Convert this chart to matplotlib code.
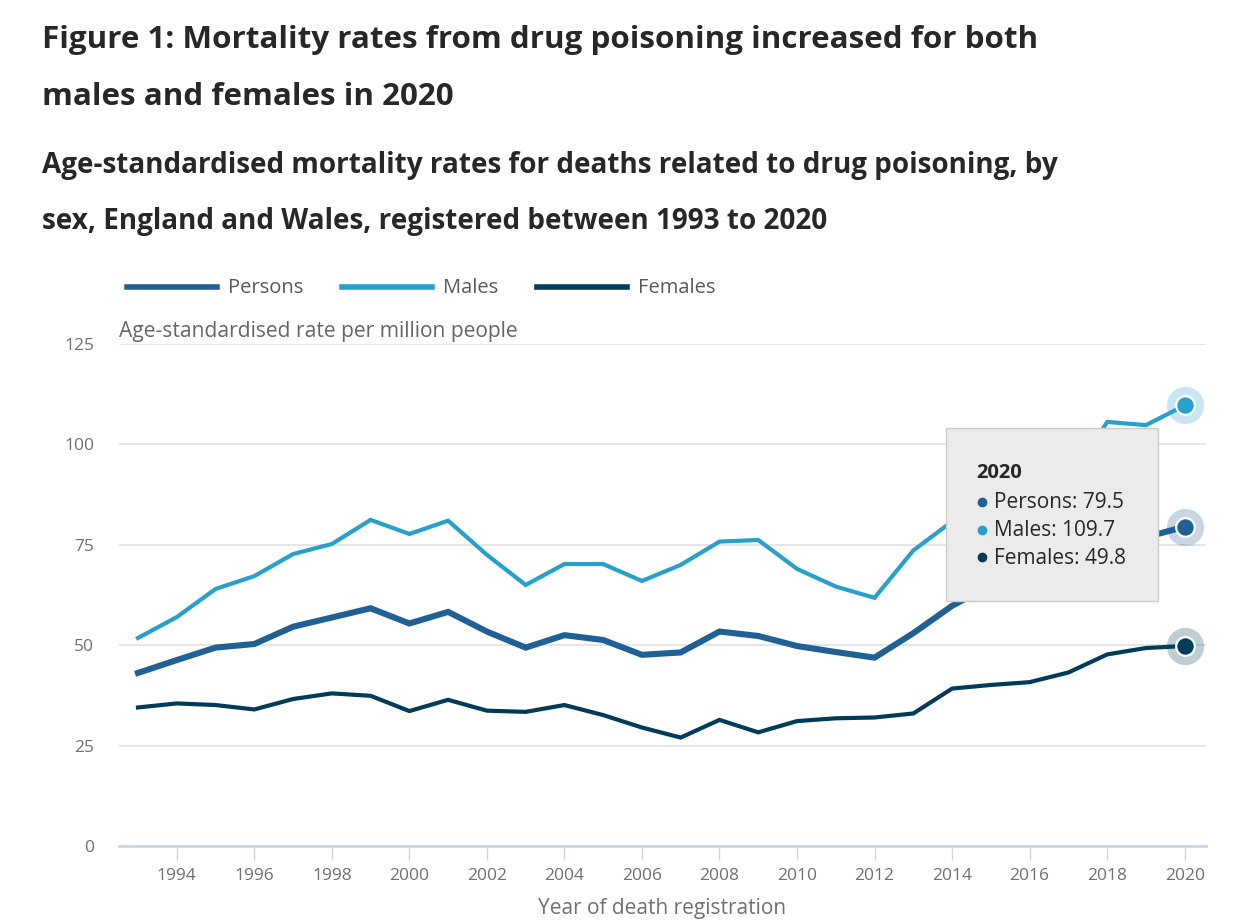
import matplotlib
matplotlib.use("Agg")
import matplotlib.pyplot as plt
from matplotlib.patches import Rectangle
from matplotlib.lines import Line2D

plt.rcParams["font.family"] = ["Open Sans", "DejaVu Sans"]

years = list(range(1993, 2021))
persons = [43.1, 46.3, 49.4, 50.3, 54.6, 56.9, 59.2, 55.4, 58.3, 53.4, 49.4,
           52.5, 51.3, 47.6, 48.2, 53.4, 52.3, 49.8, 48.3, 46.9, 53.0, 59.8,
           65.0, 66.0, 66.1, 76.1, 76.9, 79.5]
males = [51.8, 57.0, 64.0, 67.2, 72.7, 75.2, 81.2, 77.7, 81.0, 72.5, 65.0,
         70.2, 70.2, 66.0, 70.0, 75.8, 76.2, 69.0, 64.6, 61.8, 73.6, 80.8,
         89.0, 91.0, 90.0, 105.6, 104.8, 109.7]
females = [34.5, 35.5, 35.1, 34.0, 36.6, 38.0, 37.4, 33.6, 36.4, 33.7, 33.4,
           35.1, 32.6, 29.5, 27.0, 31.4, 28.3, 31.1, 31.8, 32.0, 33.0, 39.2,
           40.1, 40.8, 43.2, 47.7, 49.3, 49.8]

series_names = ["Persons", "Males", "Females"]
series_colors = ["#206095", "#27a0cc", "#003c57"]
series_widths = [4.4, 3.0, 3.0]
y_ticks = [0, 25, 50, 75, 100, 125]
x_ticks = list(range(1994, 2021, 2))

W, H = 1248, 924
text_dark = "#272727"
text_grey = "#707070"


def px(x, y):
    return x / W, 1 - y / H


fig = plt.figure(figsize=(W / 100, H / 100), dpi=100)
ax = fig.add_axes([119 / W, 1 - 846 / H, (1206 - 119) / W, (846 - 344) / H])

for vals, name, col, lw in zip([persons, males, females], series_names,
                               series_colors, series_widths):
    ax.plot(years, vals, color=col, lw=lw, solid_joinstyle="miter", zorder=3)
    # hover halo + marker on the last point
    ax.scatter([years[-1]], [vals[-1]], s=720, color=col, alpha=0.25,
               linewidths=0, zorder=4)
    ax.scatter([years[-1]], [vals[-1]], s=180, color=col, edgecolors="white",
               linewidths=1.6, zorder=5)

ax.set_xlim(1992.51, 2020.55)
ax.set_ylim(0, 125)
ax.set_yticks(y_ticks)
ax.set_xticks(x_ticks)
ax.grid(axis="y", color="#e6e6e6", lw=1.4, zorder=0)
ax.set_axisbelow(True)
for s in ["top", "right", "left"]:
    ax.spines[s].set_visible(False)
ax.spines["bottom"].set_color("#ccd6eb")
ax.spines["bottom"].set_linewidth(2)
ax.tick_params(axis="y", length=0, pad=18, labelsize=12.5, labelcolor=text_grey)
ax.tick_params(axis="x", length=10, width=1, color="#ccd6eb", pad=6,
               labelsize=12.5, labelcolor=text_grey)
ax.set_xlabel("Year of death registration", fontsize=15, color=text_grey,
              labelpad=10)

# titles
fig.text(*px(42, 40), "Figure 1: Mortality rates from drug poisoning increased for both",
         fontsize=22.6, fontweight="bold", color=text_dark, va="center")
fig.text(*px(42, 97), "males and females in 2020",
         fontsize=22.6, fontweight="bold", color=text_dark, va="center")
fig.text(*px(42, 165), "Age-standardised mortality rates for deaths related to drug poisoning, by",
         fontsize=20.1, fontweight="bold", color=text_dark, va="center")
fig.text(*px(42, 221), "sex, England and Wales, registered between 1993 to 2020",
         fontsize=20.1, fontweight="bold", color=text_dark, va="center")

# y axis title
fig.text(*px(119, 331), "Age-standardised rate per million people",
         fontsize=15.1, color="#666666", va="center")

# legend
legend_x = [127, 342, 537]
for lx, name, col in zip(legend_x, series_names, series_colors):
    fig.add_artist(Line2D([lx / W, (lx + 90) / W], [1 - 287 / H] * 2,
                          color=col, lw=4, transform=fig.transFigure))
    fig.text(*px(lx + 101, 288), name, fontsize=14.5, color="#595959", va="center")

# tooltip
fig.add_artist(Rectangle(px(946, 601), (1158 - 946) / W, (601 - 428) / H,
                         facecolor="#ebebeb", edgecolor="#cccccc", lw=1,
                         transform=fig.transFigure, zorder=10))
fig.text(*px(976, 473), str(years[-1]), fontsize=14.5, fontweight="bold",
         color=text_dark, va="center", zorder=11)
tip_vals = [persons[-1], males[-1], females[-1]]
for i, (name, col, v) in enumerate(zip(series_names, series_colors, tip_vals)):
    yy = 502 + i * 27.5
    fig.add_artist(Line2D([982 / W], [1 - yy / H], marker="o", markersize=6,
                          color=col, transform=fig.transFigure, zorder=11))
    fig.text(*px(994, yy + 1), f"{name}: {v}", fontsize=15, color=text_dark,
             va="center", zorder=11)

fig.savefig("out.png", dpi=100)
